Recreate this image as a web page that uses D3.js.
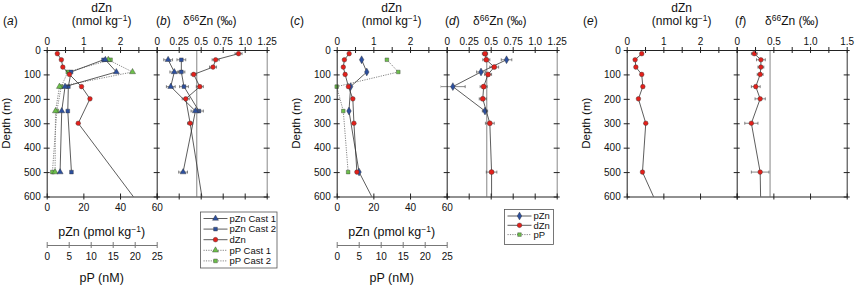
<html>
<head>
<style>
  body { margin: 0; background: #fff; }
  text { font-family: "Liberation Sans", Arial, Helvetica, sans-serif; fill: #111; }
</style>
</head>
<body>
<svg id="chart" width="856" height="287"></svg>

<script src="https://cdnjs.cloudflare.com/ajax/libs/d3/7.8.5/d3.min.js"></script>
<script>

//// ---- values ----
var depthTicks = [0, 100, 200, 300, 400, 500, 600];

// station 1: panels (a) and (b)
var depthD1 = [15, 40, 70, 100, 150, 200, 300, 750];       // dZn samples (last one is below the plot)
var dZn1    = [0.29, 0.40, 0.44, 0.62, 0.95, 1.18, 0.86, 3.11];
var d66dZn1 = [0.93, 0.67, 0.64, 0.42, 0.49, 0.33, 0.38, 0.58];
var err_d66dZn1 = [0.04, 0.04, 0.04, 0.03, 0.04, 0.04, 0.03, 0];
var depthP1 = [40, 90, 150, 250, 500];                       // particle samples
var pZnCast1 = [32, 38, 10, 8.2, 7.3];
var pZnCast2 = [31, 13.3, 11.8, 11.5, 13.5];
var pPCast1  = [14.0, 19.5, 2.9, 2.0, 1.9];
var pPCast2  = [14.5, 4.8, 3.3, 2.3, 1.3];
var d66pZnCast1 = [0.13, 0.20, 0.16, 0.44, 0.30];
var d66pZnCast2 = [0.28, 0.28, 0.31, 0.48, null];
var err_d66pZnCast1 = [0.05, 0.05, 0.05, 0.05, 0.05];
var err_d66pZnCast2 = [0.05, 0.04, 0.05, 0.05, 0];

// station 2: panels (c) and (d)
var depthD2 = [15, 40, 70, 100, 150, 200, 300, 500, 750];
var dZn2    = [0.34, 0.21, 0.18, 0.23, 0.32, 0.44, 0.47, 0.55, null];
var d66dZn2 = [0.435, 0.45, 0.54, 0.47, 0.42, 0.41, 0.49, 0.51, 0.51];
var err_d66dZn2 = [0.03, 0.04, 0.05, 0.04, 0.04, 0.04, 0.05, 0.06, 0];
var depthP2 = [40, 90, 150, 250, 500, 750];
var pZn2    = [13.6, 16.4, 7.6, 6.7, 12.2, 29.4];
var pP2     = [11.4, 14.0, 0, 1.5, 2.6, null];
var d66pZn2 = [0.68, 0.39, 0.07, 0.435, null, null];
var err_d66pZn2 = [0.06, 0.05, 0.14, 0.03, 0, 0];

// station 3: panels (e) and (f)
var depthD3 = [15, 40, 70, 100, 150, 200, 300, 500, 750];
var dZn3    = [0.41, 0.23, 0.25, 0.41, 0.44, 0.32, 0.52, 0.43, 1.18];
var d66dZn3 = [0.24, 0.33, 0.33, 0.32, 0.26, 0.32, 0.20, 0.32, 0.335];
var err_d66dZn3 = [0.04, 0.06, 0.04, 0.04, 0.06, 0.07, 0.09, 0.12, 0];

var deepRef = 0.455;   // grey reference line in the isotope panels

// tick labels
var dZnTicks   = [0, 0.5, 1, 1.5, 2, 2.5, 3];
var dZnLabels  = ["0", "", "1", "", "2", "", ""];
var d66Ticks   = [0, 0.25, 0.5, 0.75, 1.0, 1.25];
var d66Labels  = ["0", "0.25", "0.5", "0.75", "1.0", "1.25"];
var d66fTicks  = [0, 0.25, 0.5, 0.75, 1.0, 1.25, 1.5];
var d66fLabels = ["0", "", "0.5", "", "1.0", "", "1.5"];
var pZnTicks   = [0, 20, 40, 60];
var pPTicks    = [0, 5, 10, 15, 20, 25];

var RED = "#e3201b", BLUE = "#2c4f9e", GREEN = "#6cc04a";

var svg = d3.select("#chart");
var TOP = 50, BOT = 196.5, PW = 110;

var yDepth = d3.scaleLinear().domain([0, 600]).range([TOP, BOT]);

function xs(lo, hi, x0) { return d3.scaleLinear().domain([lo, hi]).range([x0, x0 + PW]); }

function cross(g, attr, s) {      // ticks that cross the axis line
  g.selectAll(".tick line").attr(attr + "1", -s).attr(attr + "2", s).attr("stroke", "#222");
  g.select(".domain").attr("stroke", "#222");
  g.selectAll(".tick text").style("font-size", "10px").attr("fill", "#111");
}

function depthAxis(x, labels) {
  var g = svg.append("g").attr("transform", "translate(" + x + ",0)")
    .call(d3.axisLeft(yDepth).tickValues(depthTicks).tickSize(3).tickPadding(3).tickSizeOuter(0)
      .tickFormat(labels ? d3.format("d") : ""));
  cross(g, "x", 3);
  return g;
}

function topAxis(x, ticks, labels) {
  var g = svg.append("g").attr("transform", "translate(0," + TOP + ")")
    .call(d3.axisTop(x).tickValues(ticks).tickSize(3).tickPadding(2).tickSizeOuter(0)
      .tickFormat(function(d, i) { return labels[i]; }));
  cross(g, "y", 3);
}

function bottomAxis(x, ticks, labels) {
  var g = svg.append("g").attr("transform", "translate(0," + BOT + ")")
    .call(d3.axisBottom(x).tickValues(ticks).tickSize(3).tickPadding(4).tickSizeOuter(0)
      .tickFormat(labels ? function(d) { return d; } : ""));
  cross(g, "y", 3);
}

function clipGroup(id, x0) {
  svg.append("clipPath").attr("id", id).append("rect")
    .attr("x", x0 - 6).attr("y", TOP - 6).attr("width", PW + 12).attr("height", BOT - TOP + 6);
  return svg.append("g").attr("clip-path", "url(#" + id + ")");
}

function series(g, depths, vals, x, o) {
  var pts = [];
  depths.forEach(function(d, i) {
    if (vals[i] != null) pts.push({ d: d, v: vals[i], e: o.err ? o.err[i] : 0 });
  });
  g.append("path").datum(pts)
    .attr("d", d3.line().x(function(d) { return x(d.v); }).y(function(d) { return yDepth(d.d); }))
    .attr("fill", "none")
    .attr("stroke", o.dash ? "#777" : "#333")
    .attr("stroke-width", o.dash ? 0.9 : 0.8)
    .attr("stroke-dasharray", o.dash ? "1.2,1.2" : null);
  if (o.err) {
    var eb = g.append("g").attr("stroke", "#555").attr("stroke-width", 0.7);
    pts.filter(function(d) { return d.e > 0; }).forEach(function(d) {
      var y = yDepth(d.d), a = x(d.v - d.e), b = x(d.v + d.e);
      eb.append("line").attr("x1", a).attr("x2", b).attr("y1", y).attr("y2", y);
      eb.append("line").attr("x1", a).attr("x2", a).attr("y1", y - 1.5).attr("y2", y + 1.5);
      eb.append("line").attr("x1", b).attr("x2", b).attr("y1", y - 1.5).attr("y2", y + 1.5);
    });
  }
  g.selectAll(null).data(pts).enter().append("path")
    .attr("d", d3.symbol(o.shape, o.size || 17))
    .attr("transform", function(d) { return "translate(" + x(d.v) + "," + yDepth(d.d) + ")"; })
    .attr("fill", o.color).attr("stroke", "#333").attr("stroke-width", 0.4);
}

function refLine(x, col) {
  svg.append("line").attr("x1", x(deepRef)).attr("x2", x(deepRef))
    .attr("y1", TOP).attr("y2", BOT).attr("stroke", col || "#9a9a9a").attr("stroke-width", 1.2);
}

function dznTitle(cx) {
  svg.append("text").attr("x", cx).attr("y", 12).attr("text-anchor", "middle")
    .style("font-size", "12px").text("dZn");
  var t = svg.append("text").attr("x", cx).attr("y", 25).attr("text-anchor", "middle").style("font-size", "12px");
  t.append("tspan").text("(nmol kg");
  t.append("tspan").attr("dy", -4).style("font-size", "8.5px").text("\u22121");
  t.append("tspan").attr("dy", 4).text(")");
}

function panelLetter(x, letter) {
  var t = svg.append("text").attr("x", x).attr("y", 25).style("font-size", "12px");
  t.append("tspan").text("(");
  t.append("tspan").style("font-style", "italic").text(letter);
  t.append("tspan").text(")");
}

function d66Title(x) {
  var t = svg.append("text").attr("x", x).attr("y", 25).style("font-size", "12px");
  t.append("tspan").text("\u03b4");
  t.append("tspan").attr("dy", -4).style("font-size", "8.5px").text("66");
  t.append("tspan").attr("dy", 4).text("Zn (\u2030)");
}

function depthTitle(x) {
  svg.append("text").attr("transform", "translate(" + x + "," + (TOP + BOT) / 2 + ") rotate(-90)")
    .attr("text-anchor", "middle").style("font-size", "11.5px").text("Depth (m)");
}

function pzTitles(x0) {
  var cx = x0 + PW / 2;
  var t = svg.append("text").attr("x", cx).attr("y", 236).attr("text-anchor", "middle").style("font-size", "12.5px");
  t.append("tspan").text("pZn (pmol kg");
  t.append("tspan").attr("dy", -4).style("font-size", "8.5px").text("\u22121");
  t.append("tspan").attr("dy", 4).text(")");

  var xp = xs(0, 25, x0);
  var g = svg.append("g").attr("transform", "translate(0,245)")
    .call(d3.axisBottom(xp).tickValues(pPTicks).tickSize(3).tickPadding(5).tickSizeOuter(0));
  g.selectAll(".tick line").attr("y1", -3).attr("y2", 3).attr("stroke", "#777");
  g.select(".domain").attr("stroke", "#777");
  g.selectAll(".tick text").style("font-size", "10px").attr("fill", "#111");
  svg.append("text").attr("x", cx).attr("y", 282).attr("text-anchor", "middle").style("font-size", "12.5px").text("pP (nM)");
}

function rightEdge(x, col) {
  var g = svg.append("g").attr("transform", "translate(" + x + ",0)")
    .call(d3.axisRight(yDepth).tickValues(depthTicks).tickSize(3).tickFormat("").tickSizeOuter(0));
  cross(g, "x", 3);
  g.select(".domain").attr("stroke", col);
}

//// ---------- station 1 ----------
var xA = 46.7, xB = 156.7;
var sA_d = xs(0, 3, xA), sA_p = xs(0, 60, xA), sA_pp = xs(0, 25, xA), sB = xs(0, 1.25, xB);

refLine(sB);
var gA = clipGroup("clipA", xA);
series(gA, depthP1, pPCast2, sA_pp, { color: GREEN, shape: d3.symbolSquare, size: 14, dash: true });
series(gA, depthP1, pPCast1, sA_pp, { color: GREEN, shape: d3.symbolTriangle, size: 16, dash: true });
series(gA, depthP1, pZnCast2, sA_p, { color: BLUE, shape: d3.symbolSquare, size: 14 });
series(gA, depthP1, pZnCast1, sA_p, { color: BLUE, shape: d3.symbolTriangle, size: 16 });
series(gA, depthD1, dZn1, sA_d, { color: RED, shape: d3.symbolCircle, size: 17 });

var gB = clipGroup("clipB", xB);
series(gB, depthP1, d66pZnCast2, sB, { color: BLUE, shape: d3.symbolSquare, size: 14, err: err_d66pZnCast2 });
series(gB, depthP1, d66pZnCast1, sB, { color: BLUE, shape: d3.symbolTriangle, size: 16, err: err_d66pZnCast1 });
series(gB, depthD1, d66dZn1, sB, { color: RED, shape: d3.symbolCircle, size: 17, err: err_d66dZn1 });

depthAxis(xA, true);
depthAxis(xB, false);
rightEdge(xB + PW, "#888");
topAxis(sA_d, dZnTicks, dZnLabels);
topAxis(sB, d66Ticks, d66Labels);
bottomAxis(sA_p, pZnTicks, true);
bottomAxis(sB, d66Ticks, false);

panelLetter(3, "a");
dznTitle(xA + PW / 2);
panelLetter(156, "b");
d66Title(183);
depthTitle(10);
pzTitles(xA);

//// ---------- station 2 ----------
var xC = 336.7, xD = 446.7;
var sC_d = xs(0, 3, xC), sC_p = xs(0, 60, xC), sC_pp = xs(0, 25, xC), sD = xs(0, 1.25, xD);

refLine(sD);
var gC = clipGroup("clipC", xC);
series(gC, depthP2, pP2, sC_pp, { color: GREEN, shape: d3.symbolSquare, size: 13, dash: true });
series(gC, depthP2, pZn2, sC_p, { color: BLUE, shape: d3.symbolDiamond, size: 18 });
series(gC, depthD2, dZn2, sC_d, { color: RED, shape: d3.symbolCircle, size: 17 });

var gD = clipGroup("clipD", xD);
series(gD, depthP2, d66pZn2, sD, { color: BLUE, shape: d3.symbolDiamond, size: 18, err: err_d66pZn2 });
series(gD, depthD2, d66dZn2, sD, { color: RED, shape: d3.symbolCircle, size: 20, err: err_d66dZn2 });

depthAxis(xC, true);
depthAxis(xD, false);
rightEdge(xD + PW, "#888");
topAxis(sC_d, dZnTicks, dZnLabels);
topAxis(sD, d66Ticks, d66Labels);
bottomAxis(sC_p, pZnTicks, true);
bottomAxis(sD, d66Ticks, false);

panelLetter(290, "c");
dznTitle(xC + PW / 2);
panelLetter(445, "d");
d66Title(473);
depthTitle(300);
pzTitles(xC);

//// ---------- station 3 ----------
var xE = 626.7, xF = 736.7;
var sE = xs(0, 3, xE), sF = xs(0, 1.5, xF);

refLine(sF);
var gE = clipGroup("clipE", xE);
series(gE, depthD3, dZn3, sE, { color: RED, shape: d3.symbolCircle, size: 17 });
var gF = clipGroup("clipF", xF);
series(gF, depthD3, d66dZn3, sF, { color: RED, shape: d3.symbolCircle, size: 17, err: err_d66dZn3 });

depthAxis(xE, true);
depthAxis(xF, false);
rightEdge(xF + PW, "#333");
topAxis(sE, dZnTicks, dZnLabels);
topAxis(sF, d66fTicks, d66fLabels);
bottomAxis(sE, [0, 1, 2, 3], false);
bottomAxis(sF, [0, 0.5, 1, 1.5], false);

panelLetter(583, "e");
dznTitle(xE + PW / 2);
panelLetter(735, "f");
d66Title(765);
depthTitle(590);

//// ---------- legends ----------
function legend(x, y, w, h, rows, dy) {
  var g = svg.append("g");
  g.append("rect").attr("x", x).attr("y", y).attr("width", w).attr("height", h)
    .attr("fill", "#fff").attr("stroke", "#555").attr("stroke-width", 0.8);
  rows.forEach(function(r, i) {
    var yy = y + 6.5 + i * dy;
    g.append("line").attr("x1", x + 3).attr("x2", x + 27).attr("y1", yy).attr("y2", yy)
      .attr("stroke", r.dash ? "#777" : "#333").attr("stroke-width", r.dash ? 0.9 : 0.8)
      .attr("stroke-dasharray", r.dash ? "1.2,1.2" : null);
    g.append("path").attr("d", d3.symbol(r.shape, r.size || 17))
      .attr("transform", "translate(" + (x + 15) + "," + yy + ")")
      .attr("fill", r.color).attr("stroke", "#333").attr("stroke-width", 0.4);
    g.append("text").attr("x", x + 29).attr("y", yy + 3.3).style("font-size", "9.5px").text(r.name);
  });
}

var legendNames1 = ["pZn Cast 1", "pZn Cast 2", "dZn", "pP Cast 1", "pP Cast 2"];
legend(200.5, 212, 76.5, 56, [
  { name: legendNames1[0], color: BLUE, shape: d3.symbolTriangle, size: 16 },
  { name: legendNames1[1], color: BLUE, shape: d3.symbolSquare, size: 14 },
  { name: legendNames1[2], color: RED, shape: d3.symbolCircle },
  { name: legendNames1[3], color: GREEN, shape: d3.symbolTriangle, size: 16, dash: true },
  { name: legendNames1[4], color: GREEN, shape: d3.symbolSquare, size: 14, dash: true }
], 10.6);

var legendNames2 = ["pZn", "dZn", "pP"];
legend(504.5, 209.5, 49, 35, [
  { name: legendNames2[0], color: BLUE, shape: d3.symbolDiamond, size: 18 },
  { name: legendNames2[1], color: RED, shape: d3.symbolCircle },
  { name: legendNames2[2], color: GREEN, shape: d3.symbolSquare, size: 13, dash: true }
], 9.3);

</script>
</body>
</html>
